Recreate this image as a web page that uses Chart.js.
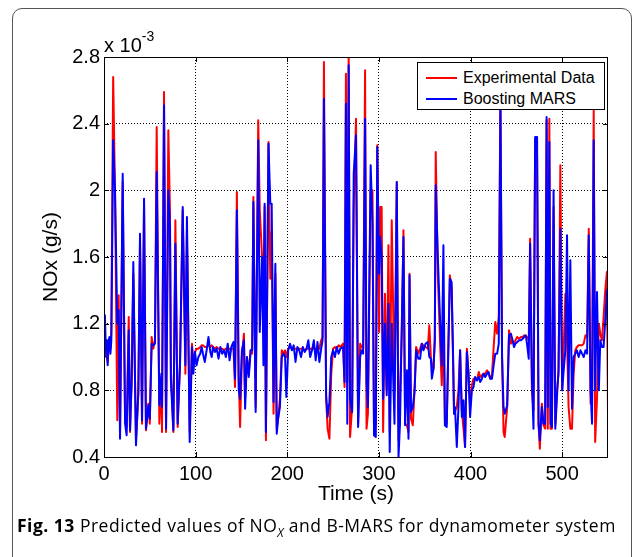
<!DOCTYPE html>
<html>
<head>
<meta charset="utf-8">
<script src="https://cdn.jsdelivr.net/npm/chart.js@4.4.0/dist/chart.umd.min.js"></script>
<style>
body { margin: 0; width: 636px; height: 557px; overflow: hidden; position: relative; background: #fff; font-family: "Liberation Sans", Arial, sans-serif; }
#frame { position: absolute; left: 12px; top: 8px; width: 620px; height: 560px; border: 1px solid #555; border-radius: 10px; box-sizing: border-box; }
#chartBox { position: absolute; left: 0; top: 0; width: 636px; height: 557px; }
#expo { position: absolute; left: 104px; top: 29px; font-size: 20px; line-height: 20px; color: #000; white-space: nowrap; }
#expo sup { font-size: 14px; position: relative; top: -3px; }
#legend { position: absolute; left: 417px; top: 62px; width: 188px; height: 48px; background: #fff; border: 1px solid #000; box-sizing: border-box; font-size: 16px; color: #000; }
.row { position: absolute; left: 0; width: 100%; height: 20px; line-height: 20px; }
.swatch { position: absolute; left: 8px; top: 9px; width: 31px; height: 2px; }
.label { position: absolute; left: 45px; top: 0; white-space: nowrap; }
#caption { position: absolute; left: 17px; top: 514px; font-family: "Open Sans", sans-serif; font-size: 17.5px; letter-spacing: 0.5px; line-height: 22px; color: #000; white-space: nowrap; }
#caption sub { font-size: 12px; font-style: italic; letter-spacing: 0; }
</style>
</head>
<body>
<div id="frame"></div>
<div id="chartBox"><canvas id="noxChart" width="636" height="557"></canvas></div>
<div id="expo">x 10<sup>-3</sup></div>
<div id="legend">
  <div class="row" style="top:5px"><div class="swatch" style="background:#ff0000"></div><div class="label">Experimental Data</div></div>
  <div class="row" style="top:26px"><div class="swatch" style="background:#0000ff"></div><div class="label">Boosting MARS</div></div>
</div>
<div id="caption"><b>Fig. 13</b> Predicted values of NO<sub>X</sub> and B-MARS for dynamometer system</div>
<script>
// tiempos (s) y valores de NOx en unidades de 1e-3 g/s
const timeS = [
    0, 1, 2, 3, 4, 5, 6, 7, 8, 10,
    12, 14.5, 16, 17.5, 20.4, 23, 24.7, 27, 28.4, 30.2,
    32, 34.9, 37.5, 39.3, 41.5, 43.7, 45.8, 48.4, 50, 52,
    53.8, 55.6, 57.5, 60.4, 62.6, 63.3, 65.5, 67.7, 70.2, 72,
    73, 75.7, 77.9, 80.4, 83, 85.9, 88.8, 90.5, 93.5, 96,
    97.5, 99.3, 101, 103, 105, 106.6, 108, 110, 112, 114,
    116, 117.5, 119, 121, 123, 125, 127, 129, 131, 133,
    135, 137, 139, 141.3, 143, 145, 147, 148.5, 150.5, 152.7,
    154, 156, 158, 160, 161.7, 163, 165.5, 168.3, 170, 172.5,
    174, 175.3, 176.7, 179.5, 181.5, 183, 185, 187, 188.5, 190,
    192, 194, 196, 197.6, 199, 201, 203, 205, 207, 209,
    211, 213, 215, 217, 219, 221, 223, 225, 227, 229,
    231, 233, 235, 237, 238.5, 240, 242.4, 244, 246, 248,
    250, 252, 254, 256, 258, 261, 262.5, 264, 265.5, 267,
    268.5, 270.8, 272.5, 275, 277.3, 279.5, 281, 282.8, 284.9, 286.5,
    288, 291, 293, 294.7, 296.6, 298.2, 300.2, 301.3, 303, 304.6,
    306.6, 308.5, 310.4, 311.8, 314, 317, 319.5, 321.4, 323, 325,
    326.8, 328.6, 330.5, 332.3, 333.4, 335, 337, 339, 340.6, 343,
    345, 346.8, 348.6, 351, 353.4, 355, 356.7, 357.8, 359.6, 361,
    362, 364.3, 366.9, 368.6, 370.4, 372, 374, 377.4, 379.3, 381,
    382, 383, 385, 386.8, 388.6, 390.5, 392.3, 394, 396, 397.8,
    399.5, 401.4, 403.2, 405, 407, 409, 410.5, 412.4, 414.2, 416,
    418, 419.7, 421.5, 423.4, 425, 427, 429, 430.8, 432.6, 434.4,
    436, 437.3, 440, 442, 444, 445.5, 447.4, 449, 451, 453,
    455, 457, 458.5, 460.4, 462, 463.5, 465, 467, 468.7, 470.5,
    472.6, 474.2, 475.6, 477.8, 479.6, 481.4, 483, 484.3, 486, 487.3,
    488.8, 490.6, 492.5, 494.3, 496, 498, 500, 501.6, 503.5, 505.3,
    507, 508.9, 510.7, 512.5, 514.3, 516, 518, 520, 521.7, 523.5,
    525.4, 527.2, 529, 531, 532.6, 534.4, 536, 538, 540, 541.6,
    543.4, 545.2, 547, 548.8, 550
];
const expData = [
    1.05, 1.08, 1.05, 1.00, 0.97, 1.05, 1.10, 1.05, 1.15, 2.68,
    2.00, 0.62, 1.37, 0.55, 2.05, 0.62, 0.58, 1.24, 0.55, 0.86,
    1.50, 0.50, 0.78, 1.70, 0.60, 1.93, 0.56, 0.72, 0.60, 1.12,
    1.05, 1.10, 2.38, 0.60, 0.88, 0.55, 2.59, 0.55, 2.36, 1.87,
    0.92, 0.55, 1.82, 0.58, 0.98, 1.88, 0.90, 1.76, 0.55, 1.08,
    0.95, 1.03, 1.05, 1.05, 1.06, 1.07, 1.07, 1.06, 1.06, 1.07,
    1.06, 1.07, 1.06, 1.05, 1.06, 1.05, 1.05, 1.05, 1.04, 1.05,
    1.04, 1.05, 1.05, 1.05, 0.82, 1.99, 0.90, 0.58, 1.00, 1.14,
    0.75, 1.00, 0.90, 1.04, 1.02, 1.96, 0.70, 2.42, 1.88, 1.60,
    1.40, 1.90, 0.50, 2.29, 1.47, 1.75, 0.66, 1.50, 0.57, 0.63,
    0.75, 1.04, 1.02, 1.04, 1.00, 1.05, 1.06, 1.05, 1.05, 1.05,
    1.05, 1.05, 1.05, 1.05, 1.04, 1.05, 1.05, 1.05, 1.05, 1.05,
    1.05, 1.04, 1.05, 1.10, 1.12, 2.77, 0.75, 0.57, 0.51, 0.90,
    1.05, 1.06, 1.05, 1.07, 1.06, 1.08, 0.82, 2.70, 0.85, 2.82,
    0.52, 0.70, 1.90, 2.43, 0.60, 1.08, 1.06, 1.05, 2.72, 0.57,
    0.66, 2.00, 2.00, 0.53, 0.60, 2.27, 1.15, 1.90, 1.90, 0.55,
    1.38, 0.80, 1.67, 0.55, 1.82, 0.80, 2.05, 0.50, 0.78, 1.15,
    1.76, 0.60, 0.59, 0.55, 1.50, 0.63, 0.59, 0.82, 1.06, 1.02,
    1.05, 1.08, 1.07, 1.06, 1.05, 1.19, 1.00, 0.95, 0.93, 1.12,
    2.23, 1.49, 1.06, 0.83, 1.20, 0.62, 0.60, 1.49, 1.42, 0.95,
    0.66, 0.66, 0.70, 0.80, 1.04, 0.68, 0.57, 0.46, 1.05, 0.90,
    0.70, 0.83, 0.87, 0.87, 0.86, 0.91, 0.88, 0.89, 0.90, 0.90,
    0.92, 0.90, 0.87, 0.89, 1.04, 1.21, 1.14, 1.24, 2.55, 1.00,
    0.55, 0.52, 0.70, 1.16, 1.08, 1.10, 1.08, 1.10, 1.12, 1.11,
    1.12, 1.12, 1.13, 1.12, 1.12, 1.10, 1.71, 0.80, 0.68, 2.31,
    2.20, 0.60, 0.45, 0.72, 0.59, 0.57, 2.42, 0.57, 2.43, 0.57,
    0.57, 1.90, 0.60, 0.80, 0.90, 2.15, 0.80, 1.04, 1.38, 1.10,
    0.70, 0.57, 0.57, 0.90, 1.04, 1.06, 1.07, 1.07, 1.07, 1.08,
    1.13, 1.12, 1.77, 0.72, 0.82, 2.48, 0.49, 0.75, 1.20, 1.14,
    1.10, 1.24, 1.40, 1.51, 0.65
];
const marsData = [
    1.00, 1.25, 1.05, 1.10, 0.95, 1.10, 1.12, 1.02, 1.10, 2.30,
    2.00, 1.20, 1.28, 0.51, 2.10, 0.60, 0.53, 1.16, 0.56, 0.86,
    1.57, 0.47, 0.80, 1.74, 0.62, 1.95, 0.57, 0.71, 0.63, 1.08,
    1.07, 1.08, 2.11, 0.71, 0.90, 0.70, 2.51, 0.57, 2.00, 1.78,
    0.86, 0.56, 1.68, 0.60, 0.96, 1.90, 0.95, 1.84, 0.49, 1.06,
    0.90, 1.03, 0.95, 1.00, 1.02, 1.06, 1.02, 0.97, 1.04, 1.12,
    1.03, 1.00, 1.06, 1.03, 1.05, 0.99, 1.06, 1.02, 1.04, 1.00,
    1.08, 0.98, 1.06, 1.09, 0.87, 1.88, 0.80, 0.75, 1.04, 1.10,
    0.69, 1.00, 0.88, 1.04, 1.04, 1.93, 0.67, 2.30, 1.15, 1.60,
    0.95, 1.92, 0.55, 2.28, 1.92, 1.92, 0.73, 1.56, 0.54, 0.63,
    0.70, 1.00, 1.02, 1.00, 0.76, 1.04, 1.08, 1.04, 1.07, 0.97,
    1.06, 1.04, 1.00, 1.06, 1.03, 1.05, 1.10, 1.00, 1.04, 1.10,
    0.98, 1.09, 0.97, 1.05, 1.10, 2.55, 0.77, 0.64, 0.73, 1.00,
    1.04, 1.00, 1.06, 1.02, 1.05, 1.06, 0.85, 2.52, 0.60, 2.75,
    0.75, 0.67, 2.10, 2.33, 0.58, 1.00, 1.04, 1.02, 2.43, 0.85,
    0.70, 2.15, 1.80, 0.53, 0.52, 2.26, 1.50, 1.72, 1.60, 0.75,
    1.20, 0.77, 1.32, 0.43, 1.20, 0.60, 2.05, 0.40, 0.60, 1.20,
    1.72, 0.59, 0.92, 0.51, 1.49, 0.67, 0.70, 0.80, 1.04, 0.99,
    0.99, 1.08, 1.04, 1.08, 1.09, 1.00, 0.99, 0.87, 0.93, 1.10,
    2.03, 1.60, 1.20, 0.95, 1.67, 0.59, 0.58, 1.47, 1.45, 1.00,
    0.66, 0.70, 0.46, 0.70, 1.04, 0.64, 0.74, 0.46, 1.03, 0.90,
    0.64, 0.80, 0.82, 0.88, 0.86, 0.88, 0.85, 0.87, 0.90, 0.88,
    0.90, 0.91, 0.87, 0.87, 0.94, 1.02, 1.02, 1.08, 2.55, 1.00,
    0.70, 0.66, 0.71, 1.13, 1.14, 1.11, 1.06, 1.08, 1.09, 1.10,
    1.10, 1.11, 1.12, 1.13, 1.06, 0.99, 1.68, 0.86, 0.57, 2.32,
    2.32, 0.60, 0.50, 0.70, 0.60, 0.60, 2.44, 0.70, 2.29, 0.60,
    0.58, 2.00, 0.57, 0.76, 0.92, 1.77, 0.80, 0.92, 1.04, 1.73,
    0.80, 1.58, 0.69, 1.00, 1.02, 1.04, 1.00, 1.04, 1.02, 1.00,
    1.04, 1.02, 1.73, 0.80, 0.60, 2.30, 0.80, 1.39, 0.80, 1.10,
    1.06, 1.06, 1.22, 1.40, 1.15
];
const xTicksStep = 100;
const yTicks = [0.4, 0.8, 1.2, 1.6, 2.0, 2.4, 2.8];

Chart.defaults.font.family = "'Liberation Sans', Arial, sans-serif";
Chart.defaults.color = '#000';

// caja del eje y marcas de tick hacia dentro (estilo MATLAB)
const boxPlugin = {
    id: 'axisBox',
    afterDatasetsDraw(chart) {
        const { ctx, chartArea: a, scales: { x, y } } = chart;
        ctx.save();
        ctx.strokeStyle = '#000';
        ctx.lineWidth = 1;
        ctx.beginPath();
        x.ticks.forEach(t => {
            const px = Math.round(x.getPixelForValue(t.value)) + 0.5;
            ctx.moveTo(px, a.bottom); ctx.lineTo(px, a.bottom - 5);
            ctx.moveTo(px, a.top); ctx.lineTo(px, a.top + 5);
        });
        y.ticks.forEach(t => {
            const py = Math.round(y.getPixelForValue(t.value)) + 0.5;
            ctx.moveTo(a.left, py); ctx.lineTo(a.left + 5, py);
            ctx.moveTo(a.right, py); ctx.lineTo(a.right - 5, py);
        });
        ctx.stroke();
        ctx.strokeRect(a.left + 0.5, a.top + 0.5, a.width - 1, a.height);
        ctx.restore();
    }
};

const toPoints = vals => timeS.map((t, i) => ({ x: t, y: vals[i] }));

new Chart(document.getElementById('noxChart'), {
    type: 'line',
    data: {
        datasets: [
            { label: 'Experimental Data', data: toPoints(expData), borderColor: '#ff0000', order: 1 },
            { label: 'Boosting MARS', data: toPoints(marsData), borderColor: '#0000ff', order: 0 }
        ]
    },
    options: {
        responsive: false,
        animation: false,
        elements: {
            point: { radius: 0 },
            line: { borderWidth: 2, tension: 0, borderJoinStyle: 'round', fill: false }
        },
        layout: { padding: { left: 0, top: 57, right: 28, bottom: 0 } },
        plugins: { legend: { display: false }, tooltip: { enabled: false } },
        scales: {
            x: {
                type: 'linear', min: 0, max: 550,
                afterFit: s => { s.height = 100; },
                ticks: { stepSize: xTicksStep, includeBounds: false, padding: 5, maxRotation: 0, font: { size: 20 } },
                grid: { color: '#000', lineWidth: 1, drawTicks: false },
                border: { display: false, dash: [1, 2] },
                title: { display: true, text: 'Time (s)', font: { size: 21 }, padding: { top: 0, bottom: 50 } }
            },
            y: {
                min: yTicks[0], max: yTicks[yTicks.length - 1],
                afterFit: s => { s.width = 104; },
                afterBuildTicks: s => { s.ticks = yTicks.map(v => ({ value: v })); },
                ticks: { padding: 4, font: { size: 20 }, callback: v => String(+v.toFixed(1)) },
                grid: { color: '#000', lineWidth: 1, drawTicks: false },
                border: { display: false, dash: [1, 2] },
                title: { display: true, text: 'NOx (g/s)', font: { size: 21 }, padding: { top: 39, bottom: 0 } }
            }
        }
    },
    plugins: [boxPlugin]
});
</script>
</body>
</html>
